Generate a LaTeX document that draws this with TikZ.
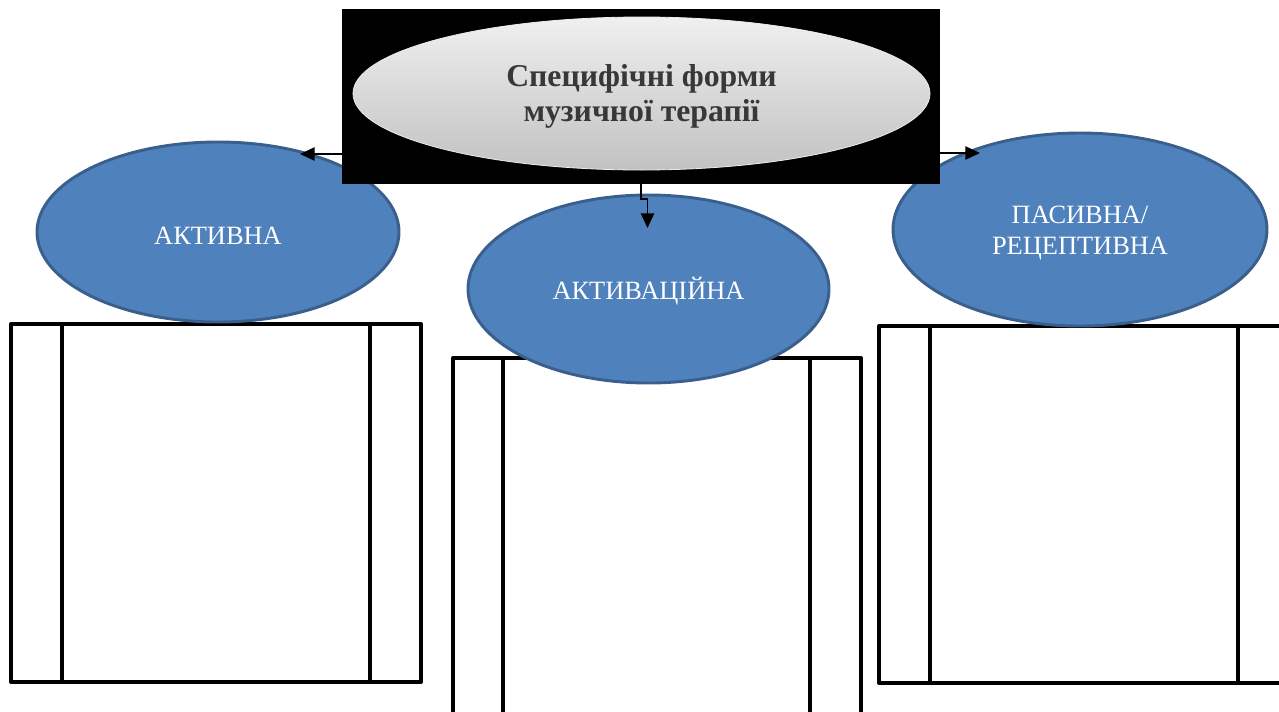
\documentclass[tikz,border=0pt]{standalone}
\usepackage{fontspec}
\setmainfont{Liberation Serif}
\usetikzlibrary{shapes.geometric,arrows.meta}
\definecolor{blueFill}{HTML}{4F81BD}
\definecolor{blueEdge}{HTML}{3A5F8C}
\definecolor{titleText}{HTML}{383838}
\tikzset{
  formoval/.style={ellipse, fill=blueFill, draw=blueEdge, line width=2.2pt, inner sep=0pt},
  formtext/.style={text=white, font=\fontsize{19.8}{23.3}\selectfont, align=center, inner sep=0pt},
  emptybox/.style={line width=3pt, line join=round},
  link/.style={line width=1.1pt, -{Triangle[length=11pt,width=10pt]}}
}
\begin{document}
\begin{tikzpicture}[x=0.75pt, y=-0.75pt]
  \useasboundingbox (0,0) rectangle (1279,711);

  % three empty frames under the forms
  \draw[emptybox] (11,324) rectangle (421,682);
  \draw[emptybox] (62,324) -- (62,682) (370,324) -- (370,682);
  \draw[emptybox] (453,358) rectangle (861,740);
  \draw[emptybox] (503,358) -- (503,740) (810,358) -- (810,740);
  \draw[emptybox] (879,326) rectangle (1310,683);
  \draw[emptybox] (930,326) -- (930,683) (1238,326) -- (1238,683);

  % the three forms
  \node[formoval, minimum width=362*0.75pt, minimum height=180*0.75pt]
    (active) at (218,232) {};
  \node[formtext] (activeText) at ([yshift=-2.5pt]active.center) {АКТИВНА};
  \node[formoval, minimum width=361*0.75pt, minimum height=188*0.75pt]
    (activating) at (648.5,289) {};
  \node[formtext] (activatingText) at ([yshift=-1.5pt]activating.center) {АКТИВАЦІЙНА};
  \node[formoval, minimum width=374*0.75pt, minimum height=193*0.75pt]
    (passive) at (1080,229.5) {};
  \node[formtext] (passiveText) at ([yshift=-2.5pt]passive.center) {ПАСИВНА/\\РЕЦЕПТИВНА};

  % heading on a black panel
  \node[rectangle, fill=black, minimum width=598*0.75pt, minimum height=175*0.75pt,
    inner sep=0pt] (panel) at (641,96.5) {};
  \node[ellipse, top color=gray!12, bottom color=gray!48, draw=gray!15, line width=0.6pt,
    minimum width=577*0.75pt, minimum height=153*0.75pt, inner sep=0pt]
    (title) at (641.5,93.5) {};
  \node[text=titleText, font=\bfseries\fontsize{23.8}{26.3}\selectfont, align=center,
    inner sep=0pt] (titleText) at ([yshift=-2.5pt]title.center)
    {Специфічні форми\\музичної терапії};

  % connectors
  \coordinate (leftend) at (300,154);
  \coordinate (rightend) at (980,153);
  \draw[link] (panel.west |- leftend) -- (leftend);
  \draw[link] (panel.east |- rightend) -- (rightend);
  \coordinate (jog) at (641,199);
  \coordinate (downend) at (647.5,228);
  \draw[link] (panel.south -| jog) -- (jog) -- (jog -| downend) -- (downend);
\end{tikzpicture}
\end{document}
